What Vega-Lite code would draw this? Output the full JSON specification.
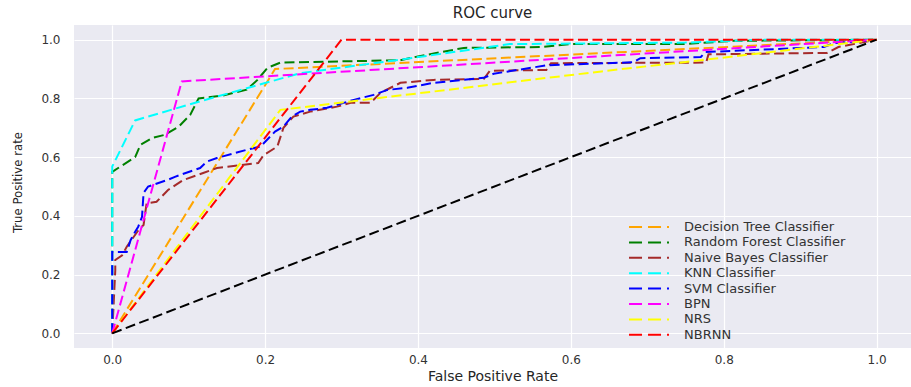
{
  "$schema": "https://vega.github.io/schema/vega-lite/v6.json",
  "width": 837,
  "height": 323,
  "autosize": {"type": "none"},
  "padding": {"left": 74, "top": 25, "right": 0, "bottom": 39},
  "background": "white",
  "title": {"text": "ROC curve", "font": "DejaVu Sans", "fontSize": 15, "fontWeight": "normal", "color": "#262626", "offset": 4, "frame": "group", "anchor": "middle"},
  "config": {
    "view": {"stroke": null, "fill": "#EAEAF2"},
    "axis": {"domain": false, "ticks": false, "tickSize": 0, "gridColor": "#FFFFFF", "gridWidth": 1.2, "labelFont": "DejaVu Sans", "labelFontSize": 12, "labelColor": "#333333", "titleFontWeight": "normal", "titleColor": "#262626", "labelFlush": false},
    "legend": {"orient": "none", "legendX": 568, "legendY": 195, "symbolType": "M-3.33,0H3.33", "symbolSize": 144, "symbolStrokeWidth": 2, "symbolDash": [13, 6], "labelFont": "DejaVu Sans", "labelFontSize": 13, "labelColor": "#333333", "labelOffset": 28, "labelLimit": 400, "rowPadding": 1.4, "padding": 0}
  },
  "datasets": {
    "roc": [
      {"m": "Decision Tree Classifier", "i": 0, "x": 0, "y": 0},
      {"m": "Decision Tree Classifier", "i": 1, "x": 0.213, "y": 0.9},
      {"m": "Decision Tree Classifier", "i": 2, "x": 1, "y": 1},

      {"m": "Random Forest Classifier", "i": 0, "x": 0, "y": 0},
      {"m": "Random Forest Classifier", "i": 1, "x": 0, "y": 0.55},
      {"m": "Random Forest Classifier", "i": 2, "x": 0.03, "y": 0.6},
      {"m": "Random Forest Classifier", "i": 3, "x": 0.037, "y": 0.642},
      {"m": "Random Forest Classifier", "i": 4, "x": 0.052, "y": 0.665},
      {"m": "Random Forest Classifier", "i": 5, "x": 0.069, "y": 0.676},
      {"m": "Random Forest Classifier", "i": 6, "x": 0.087, "y": 0.704},
      {"m": "Random Forest Classifier", "i": 7, "x": 0.102, "y": 0.744},
      {"m": "Random Forest Classifier", "i": 8, "x": 0.113, "y": 0.8},
      {"m": "Random Forest Classifier", "i": 9, "x": 0.145, "y": 0.81},
      {"m": "Random Forest Classifier", "i": 10, "x": 0.176, "y": 0.83},
      {"m": "Random Forest Classifier", "i": 11, "x": 0.19, "y": 0.863},
      {"m": "Random Forest Classifier", "i": 12, "x": 0.203, "y": 0.904},
      {"m": "Random Forest Classifier", "i": 13, "x": 0.22, "y": 0.922},
      {"m": "Random Forest Classifier", "i": 14, "x": 0.377, "y": 0.93},
      {"m": "Random Forest Classifier", "i": 15, "x": 0.4, "y": 0.943},
      {"m": "Random Forest Classifier", "i": 16, "x": 0.46, "y": 0.972},
      {"m": "Random Forest Classifier", "i": 17, "x": 0.56, "y": 0.975},
      {"m": "Random Forest Classifier", "i": 18, "x": 0.6, "y": 0.985},
      {"m": "Random Forest Classifier", "i": 19, "x": 0.747, "y": 0.985},
      {"m": "Random Forest Classifier", "i": 20, "x": 0.813, "y": 0.996},
      {"m": "Random Forest Classifier", "i": 21, "x": 1, "y": 1},

      {"m": "Naive Bayes Classifier", "i": 0, "x": 0, "y": 0},
      {"m": "Naive Bayes Classifier", "i": 1, "x": 0.004, "y": 0.215},
      {"m": "Naive Bayes Classifier", "i": 2, "x": 0.004, "y": 0.25},
      {"m": "Naive Bayes Classifier", "i": 3, "x": 0.013, "y": 0.266},
      {"m": "Naive Bayes Classifier", "i": 4, "x": 0.019, "y": 0.295},
      {"m": "Naive Bayes Classifier", "i": 5, "x": 0.034, "y": 0.35},
      {"m": "Naive Bayes Classifier", "i": 6, "x": 0.041, "y": 0.369},
      {"m": "Naive Bayes Classifier", "i": 7, "x": 0.045, "y": 0.443},
      {"m": "Naive Bayes Classifier", "i": 8, "x": 0.058, "y": 0.448},
      {"m": "Naive Bayes Classifier", "i": 9, "x": 0.073, "y": 0.488},
      {"m": "Naive Bayes Classifier", "i": 10, "x": 0.093, "y": 0.522},
      {"m": "Naive Bayes Classifier", "i": 11, "x": 0.119, "y": 0.546},
      {"m": "Naive Bayes Classifier", "i": 12, "x": 0.137, "y": 0.563},
      {"m": "Naive Bayes Classifier", "i": 13, "x": 0.191, "y": 0.58},
      {"m": "Naive Bayes Classifier", "i": 14, "x": 0.198, "y": 0.607},
      {"m": "Naive Bayes Classifier", "i": 15, "x": 0.216, "y": 0.636},
      {"m": "Naive Bayes Classifier", "i": 16, "x": 0.224, "y": 0.7},
      {"m": "Naive Bayes Classifier", "i": 17, "x": 0.237, "y": 0.738},
      {"m": "Naive Bayes Classifier", "i": 18, "x": 0.259, "y": 0.755},
      {"m": "Naive Bayes Classifier", "i": 19, "x": 0.294, "y": 0.772},
      {"m": "Naive Bayes Classifier", "i": 20, "x": 0.312, "y": 0.785},
      {"m": "Naive Bayes Classifier", "i": 21, "x": 0.338, "y": 0.785},
      {"m": "Naive Bayes Classifier", "i": 22, "x": 0.351, "y": 0.819},
      {"m": "Naive Bayes Classifier", "i": 23, "x": 0.377, "y": 0.853},
      {"m": "Naive Bayes Classifier", "i": 24, "x": 0.42, "y": 0.863},
      {"m": "Naive Bayes Classifier", "i": 25, "x": 0.486, "y": 0.866},
      {"m": "Naive Bayes Classifier", "i": 26, "x": 0.494, "y": 0.894},
      {"m": "Naive Bayes Classifier", "i": 27, "x": 0.568, "y": 0.897},
      {"m": "Naive Bayes Classifier", "i": 28, "x": 0.574, "y": 0.92},
      {"m": "Naive Bayes Classifier", "i": 29, "x": 0.777, "y": 0.922},
      {"m": "Naive Bayes Classifier", "i": 30, "x": 0.78, "y": 0.95},
      {"m": "Naive Bayes Classifier", "i": 31, "x": 0.935, "y": 0.955},
      {"m": "Naive Bayes Classifier", "i": 32, "x": 0.95, "y": 0.975},
      {"m": "Naive Bayes Classifier", "i": 33, "x": 1, "y": 1},

      {"m": "KNN Classifier", "i": 0, "x": 0, "y": 0},
      {"m": "KNN Classifier", "i": 1, "x": 0, "y": 0.568},
      {"m": "KNN Classifier", "i": 2, "x": 0.03, "y": 0.725},
      {"m": "KNN Classifier", "i": 3, "x": 0.115, "y": 0.79},
      {"m": "KNN Classifier", "i": 4, "x": 0.246, "y": 0.886},
      {"m": "KNN Classifier", "i": 5, "x": 0.377, "y": 0.932},
      {"m": "KNN Classifier", "i": 6, "x": 0.52, "y": 0.985},
      {"m": "KNN Classifier", "i": 7, "x": 0.75, "y": 0.99},
      {"m": "KNN Classifier", "i": 8, "x": 0.85, "y": 1},
      {"m": "KNN Classifier", "i": 9, "x": 1, "y": 1},

      {"m": "SVM Classifier", "i": 0, "x": 0, "y": 0},
      {"m": "SVM Classifier", "i": 1, "x": 0, "y": 0.277},
      {"m": "SVM Classifier", "i": 2, "x": 0.019, "y": 0.277},
      {"m": "SVM Classifier", "i": 3, "x": 0.024, "y": 0.317},
      {"m": "SVM Classifier", "i": 4, "x": 0.03, "y": 0.346},
      {"m": "SVM Classifier", "i": 5, "x": 0.034, "y": 0.363},
      {"m": "SVM Classifier", "i": 6, "x": 0.039, "y": 0.397},
      {"m": "SVM Classifier", "i": 7, "x": 0.041, "y": 0.478},
      {"m": "SVM Classifier", "i": 8, "x": 0.047, "y": 0.5},
      {"m": "SVM Classifier", "i": 9, "x": 0.072, "y": 0.522},
      {"m": "SVM Classifier", "i": 10, "x": 0.082, "y": 0.533},
      {"m": "SVM Classifier", "i": 11, "x": 0.115, "y": 0.563},
      {"m": "SVM Classifier", "i": 12, "x": 0.124, "y": 0.585},
      {"m": "SVM Classifier", "i": 13, "x": 0.137, "y": 0.597},
      {"m": "SVM Classifier", "i": 14, "x": 0.176, "y": 0.625},
      {"m": "SVM Classifier", "i": 15, "x": 0.194, "y": 0.636},
      {"m": "SVM Classifier", "i": 16, "x": 0.213, "y": 0.687},
      {"m": "SVM Classifier", "i": 17, "x": 0.224, "y": 0.704},
      {"m": "SVM Classifier", "i": 18, "x": 0.235, "y": 0.738},
      {"m": "SVM Classifier", "i": 19, "x": 0.246, "y": 0.755},
      {"m": "SVM Classifier", "i": 20, "x": 0.259, "y": 0.761},
      {"m": "SVM Classifier", "i": 21, "x": 0.281, "y": 0.768},
      {"m": "SVM Classifier", "i": 22, "x": 0.294, "y": 0.778},
      {"m": "SVM Classifier", "i": 23, "x": 0.316, "y": 0.795},
      {"m": "SVM Classifier", "i": 24, "x": 0.342, "y": 0.812},
      {"m": "SVM Classifier", "i": 25, "x": 0.36, "y": 0.829},
      {"m": "SVM Classifier", "i": 26, "x": 0.386, "y": 0.836},
      {"m": "SVM Classifier", "i": 27, "x": 0.42, "y": 0.853},
      {"m": "SVM Classifier", "i": 28, "x": 0.486, "y": 0.87},
      {"m": "SVM Classifier", "i": 29, "x": 0.499, "y": 0.884},
      {"m": "SVM Classifier", "i": 30, "x": 0.569, "y": 0.913},
      {"m": "SVM Classifier", "i": 31, "x": 0.682, "y": 0.923},
      {"m": "SVM Classifier", "i": 32, "x": 0.691, "y": 0.937},
      {"m": "SVM Classifier", "i": 33, "x": 0.77, "y": 0.941},
      {"m": "SVM Classifier", "i": 34, "x": 0.776, "y": 0.958},
      {"m": "SVM Classifier", "i": 35, "x": 0.931, "y": 0.975},
      {"m": "SVM Classifier", "i": 36, "x": 0.944, "y": 0.988},
      {"m": "SVM Classifier", "i": 37, "x": 1, "y": 1},

      {"m": "BPN", "i": 0, "x": 0, "y": 0},
      {"m": "BPN", "i": 1, "x": 0.091, "y": 0.858},
      {"m": "BPN", "i": 2, "x": 1, "y": 1},

      {"m": "NRS", "i": 0, "x": 0, "y": 0},
      {"m": "NRS", "i": 1, "x": 0.22, "y": 0.761},
      {"m": "NRS", "i": 2, "x": 0.64, "y": 0.892},
      {"m": "NRS", "i": 3, "x": 0.77, "y": 0.93},
      {"m": "NRS", "i": 4, "x": 1, "y": 1},

      {"m": "NBRNN", "i": 0, "x": 0, "y": 0},
      {"m": "NBRNN", "i": 1, "x": 0.3, "y": 1},
      {"m": "NBRNN", "i": 2, "x": 1, "y": 1}
    ],
    "diag": [
      {"i": 0, "x": 0, "y": 0},
      {"i": 1, "x": 1, "y": 1}
    ]
  },
  "layer": [
    {
      "data": {"name": "roc"},
      "mark": {"type": "line", "strokeWidth": 2, "strokeDash": [10, 4.5], "clip": true},
      "encoding": {
        "x": {"field": "x", "type": "quantitative", "scale": {"domain": [-0.05, 1.045], "nice": false, "zero": false},
          "axis": {"values": [0, 0.2, 0.4, 0.6, 0.8, 1.0], "format": ".1f", "labelPadding": 6, "title": "False Positive Rate", "titleFont": "DejaVu Sans", "titleFontSize": 14, "titleY": 21, "titleBaseline": "top"}},
        "y": {"field": "y", "type": "quantitative", "scale": {"domain": [-0.05, 1.05], "nice": false, "zero": false},
          "axis": {"values": [0, 0.2, 0.4, 0.6, 0.8, 1.0], "format": ".1f", "labelPadding": 14, "title": "True Positive rate", "titleFont": "DejaVu Sans Condensed, Liberation Sans, sans-serif", "titleFontSize": 13, "titleX": -50, "titleY": 157}},
        "color": {"field": "m", "type": "nominal",
          "scale": {"domain": ["Decision Tree Classifier", "Random Forest Classifier", "Naive Bayes Classifier", "KNN Classifier", "SVM Classifier", "BPN", "NRS", "NBRNN"],
                    "range": ["#FFA500", "#008000", "#A52A2A", "#00FFFF", "#0000FF", "#FF00FF", "#FFFF00", "#FF0000"]},
          "legend": {"title": null}},
        "order": {"field": "i", "type": "quantitative"}
      }
    },
    {
      "data": {"name": "diag"},
      "mark": {"type": "line", "strokeWidth": 2, "strokeDash": [10, 4.5], "color": "#000000"},
      "encoding": {
        "x": {"field": "x", "type": "quantitative"},
        "y": {"field": "y", "type": "quantitative"},
        "order": {"field": "i", "type": "quantitative"}
      }
    }
  ]
}
